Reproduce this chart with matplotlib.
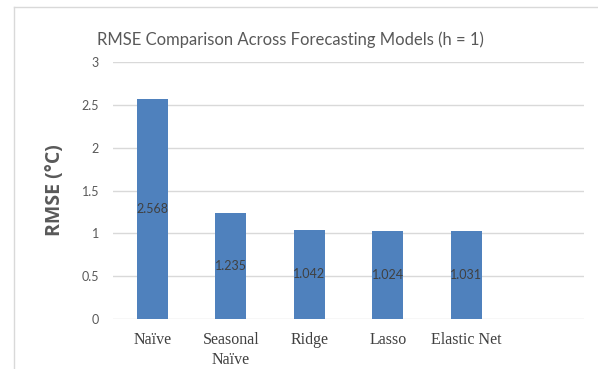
import numpy as np
import matplotlib
matplotlib.use("Agg")
import matplotlib.pyplot as plt
from matplotlib.lines import Line2D

models = ["Naïve", "Seasonal\nNaïve", "Ridge", "Lasso", "Elastic Net", ""]
rmse = [2.568, 1.235, 1.042, 1.024, 1.031, np.nan]
value_labels = ["2.568", "1.235", "1.042", "1.024", "1.031"]
yticks = [0, 0.5, 1, 1.5, 2, 2.5, 3]
ytick_labels = ["0", "0.5", "1", "1.5", "2", "2.5", "3"]

BAR = "#4F81BD"
GRID = "#D9D9D9"
TXT = "#595959"

fig = plt.figure(figsize=(5.98, 3.69), dpi=100)
ax = fig.add_axes([113 / 598, 1 - 319 / 369, 471 / 598, (319 - 62) / 369])

x = np.arange(len(models))
bars = ax.bar(x, rmse, width=0.4, color=BAR, zorder=3)
for b, v, lab in zip(bars, rmse, value_labels):
    ax.text(b.get_x() + b.get_width() / 2, v / 2, lab, ha="center", va="center",
            fontsize=9, color="#404040", family="Lato", zorder=4)

ax.set_xlim(-0.5, len(models) - 0.5)
ax.set_ylim(0, 3)
ax.set_yticks(yticks)
ax.set_yticklabels(ytick_labels, family="Lato", fontsize=9, color=TXT)
ax.set_xticks(x)
ax.set_xticklabels(models, family="Liberation Serif", fontsize=11.5, color="#404040",
                   linespacing=1.35)
ax.tick_params(axis="both", length=0)
ax.tick_params(axis="y", pad=10)
ax.tick_params(axis="x", pad=9)
ax.yaxis.grid(True, color=GRID, linewidth=1, zorder=0)
for s in ax.spines.values():
    s.set_visible(False)

ax.set_ylabel("RMSE (°C)", family="Open Sans", fontweight="bold", fontsize=14, color=TXT)
ax.yaxis.set_label_coords(-113 / 471 + 65 / 471, 0.5)

fig.text(290 / 598, 1 - 40 / 369, "RMSE Comparison Across Forecasting Models (h = 1)",
         ha="center", va="center", family="Lato", fontsize=12, color=TXT)

# chart-area border (left and top edges)
fig.add_artist(Line2D([14 / 598, 14 / 598], [0, 1 - 7 / 369], transform=fig.transFigure,
                      color=GRID, linewidth=1))
fig.add_artist(Line2D([14 / 598, 1], [1 - 7 / 369, 1 - 7 / 369], transform=fig.transFigure,
                      color=GRID, linewidth=1))

fig.savefig("out.png", dpi=100)
